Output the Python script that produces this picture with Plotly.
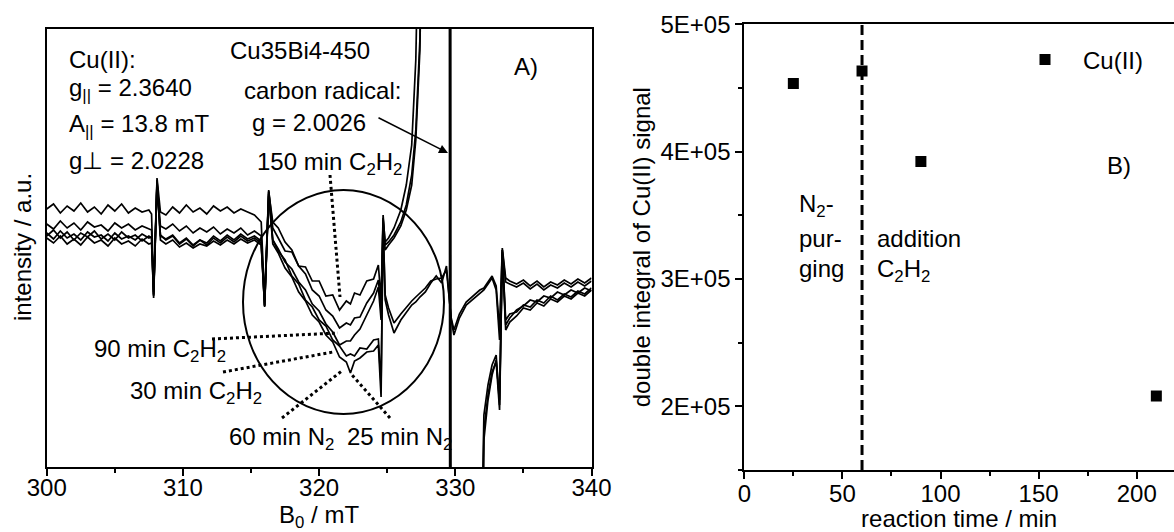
import plotly.graph_objects as go

# ---------------- data: EPR spectra (left panel) ----------------
B_field = [300.0, 300.5, 301.0, 301.5, 302.0, 302.5, 303.0, 303.5, 304.0, 304.5, 305.0, 305.5, 306.0, 306.5, 307.0, 307.5,
           307.7, 307.85, 308.1, 308.35,
           308.75, 309.25, 309.75, 310.25, 310.75, 311.25, 311.75, 312.25, 312.75, 313.25, 313.75, 314.25, 314.75, 315.25, 315.75,
           316.0, 316.3, 316.6,
           317.0, 317.5, 318.0, 318.5, 319.0, 319.5, 320.0, 320.5, 321.0, 321.5, 322.0, 322.3, 322.6, 323.0, 323.5, 324.0, 324.35,
           324.55, 324.7, 324.85,
           325.1, 325.5, 326.0, 326.4, 326.8, 327.1, 327.4, 327.8, 328.2, 328.6, 329.0, 329.35,
           329.55, 329.7, 329.9,
           330.3, 330.8, 331.3, 331.8, 332.1, 332.4, 332.7, 333.0, 333.25, 333.45, 333.7, 334.0,
           334.5, 335.0, 335.5, 336.0, 336.5, 337.0, 337.5, 338.0, 338.5, 339.0, 339.5, 340.0]

int_150min_C2H2 = [291, 296, 287, 294, 289, 297, 288, 293, 286, 295, 289, 296, 287, 292, 288, 290,
                   286, 208, 322, 288,
                   285, 293, 287, 295, 288, 292, 286, 294, 289, 293, 287, 291, 288, 285, 278,
                   200, 310, 272,
                   262, 249, 248, 234, 233, 219, 219, 204, 205, 190, 199, 196, 207, 205, 219, 221, 235,
                   200, 285, 255,
                   258, 265, 278, 295, 325, 370, 460, 650, 950, 1300, 1700, 2000,
                   4000, -500, -2500,
                   -2200, -1500, -800, -150, 85, 115, 135, 145, 95, 250, 175, 182,
                   190, 194, 200, 198, 204, 202, 208, 205, 210, 207, 212, 209]

int_90min_C2H2 = [276, 271, 279, 272, 277, 270, 278, 273, 275, 269, 277, 272, 276, 270, 274, 271,
                  270, 204, 318, 274,
                  271, 276, 269, 274, 267, 272, 268, 273, 266, 271, 267, 272, 265, 269, 264,
                  195, 308, 278,
                  272, 258, 250, 234, 226, 210, 204, 190, 184, 172, 177, 175, 182, 183, 197, 207, 220,
                  190, 282, 258,
                  262, 272, 290, 315, 355, 440, 600, 900, 1200, 1500, 1800, 2000,
                  1000, -3000, -2800,
                  -2400, -1600, -900, -250, 70, 105, 128, 138, 90, 245, 170, 178,
                  184, 192, 190, 197, 194, 201, 198, 204, 201, 207, 204, 210]

int_30min_C2H2 = [264, 270, 262, 268, 260, 267, 263, 269, 261, 266, 260, 268, 262, 265, 259, 264,
                  262, 202, 315, 265,
                  260, 264, 256, 261, 254, 260, 255, 262, 257, 263, 258, 264, 259, 262, 257,
                  193, 304, 260,
                  251, 238, 231, 218, 210, 196, 189, 176, 168, 155, 159, 159, 165, 171, 185, 199, 213,
                  180, 280, 250,
                  255, 262, 274, 290, 315, 360, 450, 730, 1030, 1380, 1730, 2030,
                  2200, -2000, -2600,
                  -2300, -1700, -1000, -300, 60, 100, 125, 140, 100, 248, 180, 186,
                  188, 195, 193, 200, 197, 204, 200, 206, 203, 209, 206, 212]

int_60min_N2 = [262, 257, 264, 256, 261, 255, 263, 257, 260, 254, 262, 256, 259, 254, 261, 256,
                257, 205, 317, 260,
                256, 260, 253, 257, 252, 256, 254, 259, 255, 260, 256, 261, 257, 260, 255,
                194, 306, 256,
                247, 232, 223, 208, 199, 185, 178, 165, 158, 143, 138, 127, 139, 142, 148, 149, 155,
                103, 278, 200,
                185, 167, 180, 188, 195, 198, 203, 208, 217, 224, 217, 234,
                200, 180, 165,
                182, 195, 201, 207, 210, 216, 222, 210, 160, 250, 218, 216,
                213, 217, 211, 216, 210, 215, 212, 217, 213, 218, 214, 219]

int_25min_N2 = [267, 261, 269, 262, 266, 260, 268, 263, 265, 259, 267, 261, 264, 260, 266, 262,
                263, 206, 320, 264,
                261, 265, 257, 262, 255, 260, 257, 264, 259, 265, 260, 266, 261, 264, 259,
                194, 309, 260,
                249, 240, 224, 216, 200, 193, 180, 174, 160, 154, 144, 146, 144, 152, 151, 160, 161,
                115, 275, 205,
                192, 177, 186, 193, 199, 203, 207, 212, 219, 221, 222, 230,
                202, 182, 170,
                186, 198, 204, 210, 212, 218, 224, 214, 170, 252, 222, 219,
                216, 220, 214, 219, 213, 218, 215, 220, 216, 221, 217, 222]

B_ticks = [300, 310, 320, 330, 340]
B_minor = [305, 315, 325, 335]

# ---------------- data: double integral (right panel) ----------------
reaction_time = [25, 60, 90, 210]
cu_double_integral = [4.536e5, 4.633e5, 3.923e5, 2.081e5]
t_ticks = [0, 50, 100, 150, 200]
t_minor = [25, 75, 125, 175]
di_ticks = [2e5, 3e5, 4e5, 5e5]
di_ticktext = ["2E+05", "3E+05", "4E+05", "5E+05"]
di_minor = [1.5e5, 2.5e5, 3.5e5, 4.5e5]
purge_end = 60

# ---------------- figure ----------------
W, H = 1174, 532


def fx(p):
    return p / W


def fy(p):
    return 1 - p / H


FONT = dict(family="Liberation Sans, Arial, sans-serif", size=24, color="black")

fig = go.Figure()
for name, vals in [("25 min N2", int_25min_N2), ("60 min N2", int_60min_N2),
                   ("30 min C2H2", int_30min_C2H2), ("90 min C2H2", int_90min_C2H2),
                   ("150 min C2H2", int_150min_C2H2)]:
    fig.add_trace(go.Scatter(x=B_field, y=vals, mode="lines", name=name, showlegend=False,
                             line=dict(color="black", width=1.7), xaxis="x", yaxis="y"))

fig.add_trace(go.Scatter(x=reaction_time, y=cu_double_integral, mode="markers", name="Cu(II)",
                         marker=dict(symbol="square", size=11, color="black"),
                         xaxis="x2", yaxis="y2", showlegend=True))

common = dict(showline=True, linecolor="black", linewidth=2, showgrid=False, zeroline=False,
              ticks="outside", ticklen=7, tickwidth=1.5, tickcolor="black", tickfont=FONT,
              automargin=False)
minor_common = dict(ticks="outside", ticklen=4, tickwidth=1.5, tickcolor="black", showgrid=False)

fig.update_layout(
    width=W, height=H, margin=dict(l=0, r=0, t=0, b=0, autoexpand=False),
    paper_bgcolor="white", plot_bgcolor="white", font=FONT,
    xaxis={**common, "domain": [46.7 / W, 591.5 / W], "range": [300, 340], "anchor": "y",
           "tickmode": "array", "tickvals": B_ticks, "mirror": True, "ticklabelstandoff": -9,
           "minor": {**minor_common, "tickvals": B_minor},
           "title": dict(text="B<sub>0</sub> / mT", standoff=15, font=FONT)},
    yaxis={**common, "domain": [fy(467), fy(29)], "range": [33, 471], "anchor": "x",
           "showticklabels": False, "ticks": "", "mirror": True},
    xaxis2={**common, "domain": [744.3 / W, 1.0], "range": [0, 219], "anchor": "y2",
            "tickmode": "array", "tickvals": t_ticks, "mirror": True, "ticklabelstandoff": -6,
            "minor": {**minor_common, "tickvals": t_minor},
            "title": dict(text="reaction time / min", standoff=16, font=FONT)},
    yaxis2={**common, "domain": [fy(470), fy(24.3)], "range": [1.5e5, 5e5], "anchor": "x2",
            "tickmode": "array", "tickvals": di_ticks, "ticktext": di_ticktext,
            "minor": {**minor_common, "tickvals": di_minor},
            "title": dict(text="double integral of Cu(II) signal", standoff=3, font=FONT)},
    legend=dict(x=fx(1007), y=fy(60), xanchor="left", yanchor="middle", itemwidth=66,
                bgcolor="rgba(0,0,0,0)", borderwidth=0, font=FONT),
)

# ---------------- annotations ----------------
texts = [
    ("Cu(II):", 67, 60), ("g<sub>||</sub> = 2.3640", 67, 89), ("A<sub>||</sub> = 13.8 mT", 67, 125),
    ("g\u22a5 = 2.0228", 67, 161), ("Cu35Bi4-450", 228, 51), ("carbon radical:", 242, 91),
    ("g = 2.0026", 250, 123), ("150 min C<sub>2</sub>H<sub>2</sub>", 255, 163), ("A)", 512, 66),
    ("90 min C<sub>2</sub>H<sub>2</sub>", 92, 350), ("30 min C<sub>2</sub>H<sub>2</sub>", 128, 392),
    ("60 min N<sub>2</sub>", 227, 438), ("25 min N<sub>2</sub>", 345, 438),
    ("N<sub>2</sub>-", 797, 205), ("pur-", 797, 238), ("ging", 797, 268),
    ("addition", 875, 238), ("C<sub>2</sub>H<sub>2</sub>", 875, 270), ("B)", 1105, 165),
]
annotations = [dict(text=t, x=fx(x), y=fy(y), xref="paper", yref="paper", xanchor="left",
                    yanchor="middle", showarrow=False, font=FONT) for t, x, y in texts]
# y-axis title of the spectra panel
annotations.append(dict(text="intensity / a.u.", x=fx(22), y=fy(247), xref="paper", yref="paper",
                        xanchor="center", yanchor="middle", textangle=-90, showarrow=False, font=FONT))
annotations.append(dict(text="", x=fx(448), y=fy(153), xref="paper", yref="paper",
                        ax=377 - 448, ay=117 - 153, showarrow=True, arrowhead=2, arrowsize=1.2,
                        arrowwidth=1.5, arrowcolor="black", standoff=0))
fig.update_layout(annotations=annotations)

shapes = [dict(type="circle", xref="paper", yref="paper", x0=fx(243), x1=fx(444), y0=fy(414), y1=fy(190),
               line=dict(color="black", width=2))]
for (x0, y0, x1, y1) in [(330, 175, 340, 297), (212, 339, 338, 333), (223, 372, 333, 352),
                         (282, 418, 343, 370), (390, 418, 352, 375)]:
    shapes.append(dict(type="line", xref="paper", yref="paper", x0=fx(x0), y0=fy(y0), x1=fx(x1), y1=fy(y1),
                       line=dict(color="black", width=3, dash="dot")))
shapes.append(dict(type="line", xref="x2", yref="y2", x0=purge_end, x1=purge_end, y0=1.5e5, y1=5e5,
                   line=dict(color="black", width=3, dash="10px,5px")))
fig.update_layout(shapes=shapes)

fig.write_html("out.html")
